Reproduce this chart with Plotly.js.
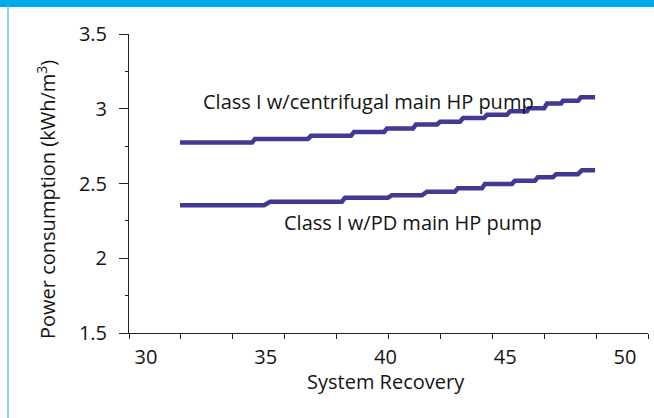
<!DOCTYPE html>
<html>
<head>
<meta charset="utf-8">
<script src="https://cdn.plot.ly/plotly-3.0.1.min.js"></script>
<style>
html,body{margin:0;padding:0;background:#fff;}
#chart{width:654px;height:418px;}
</style>
</head>
<body>
<div id="chart"></div>
<script>
// System recovery (%) and power consumption (kWh/m3)
const centrifugalRecovery = [31.42, 34.43, 34.55, 36.76, 36.89, 38.56, 38.68, 39.94, 40.06, 41.15, 41.27, 42.15, 42.28, 43.11, 43.24, 44.11, 44.24, 45.07, 45.20, 45.91, 45.99, 46.62, 46.74, 47.33, 47.41, 48.04, 48.16, 48.75];
const centrifugalPower    = [2.774, 2.774, 2.798, 2.798, 2.819, 2.819, 2.845, 2.845, 2.868, 2.868, 2.895, 2.895, 2.913, 2.913, 2.938, 2.938, 2.960, 2.960, 2.983, 2.983, 3.003, 3.003, 3.035, 3.035, 3.054, 3.054, 3.077, 3.077];

const pdRecovery = [31.42, 34.93, 35.18, 38.18, 38.31, 40.10, 40.27, 41.52, 41.73, 42.90, 43.02, 44.03, 44.15, 45.28, 45.40, 46.24, 46.36, 46.99, 47.12, 48.03, 48.20, 48.75];
const pdPower    = [2.355, 2.355, 2.378, 2.378, 2.405, 2.405, 2.421, 2.421, 2.445, 2.445, 2.468, 2.468, 2.497, 2.497, 2.519, 2.519, 2.541, 2.541, 2.562, 2.562, 2.588, 2.588];

const seriesNames = ["Class I w/centrifugal main HP pump", "Class I w/PD main HP pump"];
const xTickValues = [30, 35, 40, 45, 50];
const yTickValues = [1.5, 2, 2.5, 3, 3.5];
const yTickText = ["1.5", "2", "2.5", "3", "3.5"];

const FONT = "Open Sans, Noto Sans, sans-serif";
const TXT = "#141414";
const lineColor = "#403a93";

const traces = [
  {x: centrifugalRecovery, y: centrifugalPower, name: seriesNames[0], mode: "lines",
   line: {color: lineColor, width: 4.5}, hoverinfo: "skip"},
  {x: pdRecovery, y: pdPower, name: seriesNames[1], mode: "lines",
   line: {color: lineColor, width: 4.5}, hoverinfo: "skip"}
];

const layout = {
  width: 654, height: 418,
  margin: {l: 129, r: 6, t: 34, b: 85},
  paper_bgcolor: "#ffffff", plot_bgcolor: "#ffffff",
  showlegend: false,
  font: {family: FONT, size: 20, color: TXT},
  xaxis: {
    range: [29.29, 50.96],
    tickvals: xTickValues, ticktext: xTickValues.map(String),
    ticks: "", showgrid: false, zeroline: false,
    showline: true, linecolor: "#222", linewidth: 1,
    tickfont: {family: FONT, size: 20, color: TXT},
    ticklabelstandoff: 6,
    minor: {tick0: 29.29, dtick: 2.167, ticks: "outside", ticklen: 5, tickcolor: "#222", showgrid: false},
    fixedrange: true
  },
  yaxis: {
    range: [1.5, 3.5],
    tickvals: yTickValues, ticktext: yTickText,
    ticks: "outside", ticklen: 9, tickcolor: "#222",
    showgrid: false, zeroline: false,
    showline: true, linecolor: "#222", linewidth: 1,
    tickfont: {family: FONT, size: 20, color: TXT},
    ticklabelstandoff: 8,
    minor: {dtick: 0.25, tick0: 1.5, ticks: "outside", ticklen: 3, tickcolor: "#222", showgrid: false},
    fixedrange: true
  },
  annotations: [
    {text: seriesNames[0], xref: "x", yref: "y", x: 32.3, y: 3.05, xanchor: "left", yanchor: "middle",
     showarrow: false, font: {family: FONT, size: 20, color: TXT}},
    {text: seriesNames[1], xref: "x", yref: "y", x: 35.68, y: 2.236, xanchor: "left", yanchor: "middle",
     showarrow: false, font: {family: FONT, size: 20, color: TXT}},
    {text: "System Recovery", xref: "paper", yref: "paper", x: 0.495, y: 0, yshift: -48, xanchor: "center", yanchor: "middle",
     showarrow: false, font: {family: FONT, size: 20, color: TXT}},
    {text: "Power consumption (kWh/m<sup>3</sup>)", xref: "paper", yref: "paper", x: 0, xshift: -82, y: 0.445,
     xanchor: "center", yanchor: "middle", textangle: -90,
     showarrow: false, font: {family: FONT, size: 20, color: TXT}}
  ],
  shapes: [
    {type: "rect", xref: "paper", yref: "paper", x0: -129/519, x1: 654/519, y0: 1 + 27/299, y1: 1 + 40/299,
     fillcolor: "#00a9e9", line: {width: 0}, layer: "above"},
    {type: "line", xref: "paper", yref: "paper", x0: -121/519, x1: -121/519, y0: -1, y1: 1 + 28/299,
     line: {color: "#5cc3f0", width: 1.5}}
  ]
};

Plotly.newPlot("chart", traces, layout, {displayModeBar: false, staticPlot: true});
</script>
</body>
</html>
